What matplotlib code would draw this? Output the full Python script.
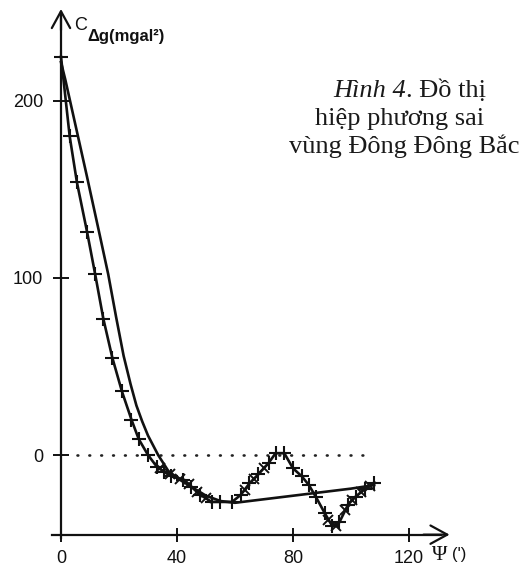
import matplotlib
matplotlib.use("Agg")
import matplotlib.pyplot as plt

# ---- data ----
emp_x = [0, 3, 5.5, 9, 11.8, 14.6, 17.7, 21, 24.3, 26.8, 30, 33, 35.5, 38, 42, 45, 48,
         52, 55, 59, 62, 65, 68, 71.6, 74, 77, 80, 83, 85.5, 88, 91, 93.5, 96, 99,
         101.6, 105, 108]
emp_y = [225, 180, 154, 126, 102, 77, 55, 36, 20, 9, 0, -6.5, -9.5, -12, -14, -18, -22.5,
         -26.5, -26.5, -26.5, -22.5, -16, -11, -4.5, 1, 1, -7.5, -12, -17, -24, -33, -40,
         -38, -28, -23.5, -19, -16]

mid_x = [34, 37.5, 41, 44, 47, 50, 63.5, 66.5, 70, 92, 95, 98, 100.5, 103.5, 106.5]
mid_y = [-7.5, -11, -13.5, -16.5, -21, -24.5, -20, -13.5, -7.5, -36.5, -40, -31, -25.5,
         -21, -17.5]

model_x = [0, 1.5, 3, 6, 9, 13.4, 16.3, 19, 21.6, 24, 26, 28, 30, 33.5, 37, 41, 45,
           50, 55, 60, 70, 80, 90, 100, 108]
model_y = [222, 212, 201, 179, 157, 124, 102, 78, 56, 40, 28, 19, 11, 0, -9, -14,
           -18, -23, -26, -27, -25, -23, -21, -19, -17]

zero_x = [5.5, 106]
zero_y = [0, 0]

x_ticks = [0, 40, 80, 120]
y_ticks = [0, 100, 200]

W, H = 524, 568
fig = plt.figure(figsize=(W / 100, H / 100), dpi=100)
ax = fig.add_axes([0, 0, 1, 1])
ax.set_xlim(-21.03, 159.66)
ax.set_ylim(-63.84, 257.06)
ax.patch.set_alpha(0)

sans = ["Liberation Sans", "DejaVu Sans"]
serif = ["Liberation Serif", "DejaVu Serif"]

for s in ("top", "right"):
    ax.spines[s].set_visible(False)
ax.spines["left"].set_position(("data", 0))
ax.spines["bottom"].set_position(("data", -45))
ax.spines["left"].set_bounds(-47, 248)
ax.spines["bottom"].set_bounds(-3, 131)
for s in ("left", "bottom"):
    ax.spines[s].set_linewidth(1.6)
    ax.spines[s].set_color("#111111")

ax.set_xticks(x_ticks)
ax.set_yticks(y_ticks)
ax.tick_params(axis="y", direction="inout", length=11.5, width=1.4, pad=7,
               labelsize=13, colors="#111111")
ax.tick_params(axis="x", direction="inout", length=10, width=1.4, pad=6,
               labelsize=13, colors="#111111")
for lab in ax.get_xticklabels() + ax.get_yticklabels():
    lab.set_family(sans)

# axis arrows
ax.annotate("", xy=(0, 252), xytext=(0, 240),
            arrowprops=dict(arrowstyle="->,head_length=0.55,head_width=0.3",
                            lw=1.6, color="#111111", mutation_scale=22,
                            shrinkA=0, shrinkB=0))
ax.annotate("", xy=(134, -45), xytext=(125, -45),
            arrowprops=dict(arrowstyle="->,head_length=0.55,head_width=0.3",
                            lw=1.6, color="#111111", mutation_scale=22,
                            shrinkA=0, shrinkB=0))

# zero reference (dotted)
ax.plot(zero_x, zero_y, color="#222222", lw=1.9, linestyle=(0, (0.3, 4.2)),
        dash_capstyle="round")

# model curve
ax.plot(model_x, model_y, color="#111111", lw=1.9, solid_joinstyle="round")
# empirical curve with + markers
ax.plot(emp_x, emp_y, color="#111111", lw=1.9, marker="+", markersize=10,
        markeredgewidth=1.5)
# extra x markers
ax.plot(mid_x, mid_y, linestyle="none", color="#111111", marker="x",
        markersize=6.5, markeredgewidth=1.4)

def px(x, y):
    return x / W, 1 - y / H

# axis titles
fig.text(*px(74, 26), "C", fontsize=13, family=sans, va="center", ha="left",
         color="#111111")
fig.text(*px(87, 36), "Δg(mgal²)", fontsize=12, family=sans, weight="bold",
         va="center", ha="left", color="#111111")
fig.text(*px(432, 555), "Ψ", fontsize=15, family=serif, va="center", ha="left",
         color="#111111")
fig.text(*px(452, 555), "(')", fontsize=12, family=sans, va="center", ha="left",
         color="#111111")

# caption
cfs = 19
cx = 404
t1 = fig.text(0, 0, "Hình 4", fontsize=cfs, family=serif, style="italic",
              ha="left", va="baseline", color="#1a1a1a")
t2 = fig.text(0, 0, ". Đồ thị", fontsize=cfs, family=serif,
              ha="left", va="baseline", color="#1a1a1a")
r = fig.canvas.get_renderer()
w1 = t1.get_window_extent(r).width
w2 = t2.get_window_extent(r).width
x0 = cx + 6 - (w1 + w2) / 2
t1.set_position(px(x0, 97))
t2.set_position(px(x0 + w1, 97))
fig.text(*px(cx - 4, 125), "hiệp phương sai", fontsize=cfs, family=serif,
         ha="center", va="baseline", color="#1a1a1a")
fig.text(*px(cx, 153), "vùng Đông Đông Bắc", fontsize=cfs, family=serif,
         ha="center", va="baseline", color="#1a1a1a")

fig.savefig("out.png", dpi=100)
